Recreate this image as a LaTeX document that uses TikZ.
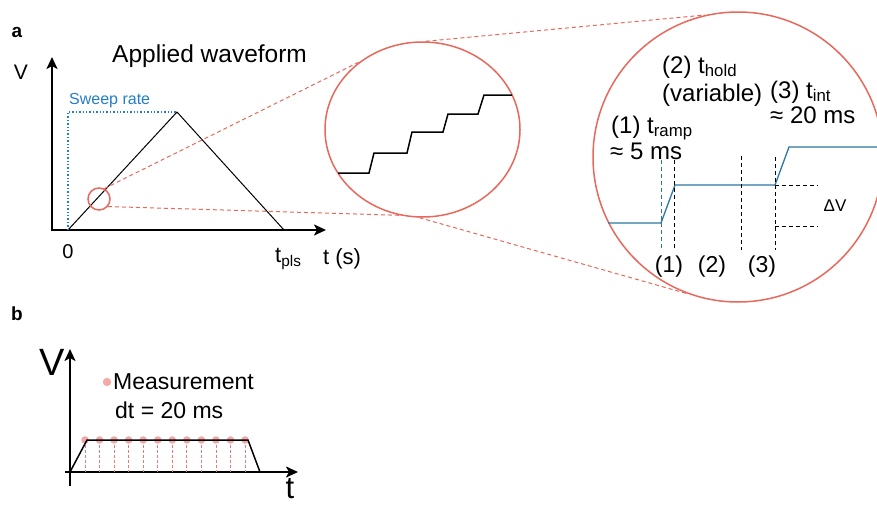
\documentclass[tikz,border=0pt]{standalone}
\usepackage{fontspec}
\setmainfont{Liberation Sans}
\usetikzlibrary{arrows.meta,positioning,shapes.geometric,calc}
\definecolor{zoomred}{RGB}{232,104,92}
\definecolor{sweepblue}{RGB}{35,125,200}
\definecolor{waveblue}{RGB}{45,120,160}
\definecolor{dotpink}{RGB}{244,168,168}
\definecolor{stempink}{RGB}{236,120,120}

\begin{document}
\begin{tikzpicture}[x=1pt,y=-1pt,
    axis/.style={line width=2.6pt,-{Stealth[length=12pt,width=11pt,inset=3pt]}},
    lens/.style={draw=zoomred,line width=1.5pt,inner sep=0pt},
    guide/.style={draw=zoomred,dashed,line width=1pt,dash pattern=on 4pt off 3pt},
    marker/.style={dashed,line width=1pt,dash pattern=on 4pt off 3pt},
    txt/.style={inner sep=0pt,anchor=base west},
    fs/.style={font=\fontsize{#1}{#1}\selectfont}]
    \useasboundingbox (0,0) rectangle (877,506);
    \clip (0,0) rectangle (877,506);

    % Panel labels
    \node[font=\bfseries\fontsize{19}{19}\selectfont] (labA) at (17,32) {a};
    \node[font=\bfseries\fontsize{19}{19}\selectfont] (labB) at (17,314) {b};

    % Axes (a)
    \draw[axis] (52,231) -- (52,57);
    \draw[axis] (51,230) -- (326,230);
    \node[fs=21] (vA) at (21,72) {V};
    \node[fs=20] (zeroA) at (68,252) {0};
    \node[txt,fs=22] (tA) at (323,264) {t (s)};
    \node[txt,fs=22] (tpls) at (275,262) {t\textsubscript{pls}};
    \node[txt,fs=24.5] (title) at (112,62) {Applied waveform};

    % Triangle pulse and sweep rate
    \draw[line width=1pt] (68,230) -- (177,112) -- (284,230);
    \draw[sweepblue,dotted,line width=1.4pt] (68,230) -- (68,112) -- (177,112);
    \node[txt,fs=16,text=sweepblue] (sweep) at (69,104) {Sweep rate};

    % Zoom lenses
    \node[lens,circle,minimum size=22pt] (lensA) at (99,199) {};
    \node[lens,ellipse,minimum width=195pt,minimum height=175pt] (lensB) at (422.5,129.5) {};
    \node[lens,circle,minimum size=290pt] (lensC) at (738,157) {};

    % Guide lines between lenses
    \draw[guide] (lensA.63) -- (lensB.133);
    \draw[guide] (lensA.-40) -- (lensB.-105);
    \draw[guide] (lensB.88) -- (lensC.103);
    \draw[guide] (lensB.-92) -- (lensC.-110);

    % Staircase (first zoom)
    \draw[line width=1.5pt]
        (338,173) -- (369,173) -- (374,153) -- (407,153) --
        (412,132) -- (443,132) -- (448,114) -- (478,114) --
        (484,95) -- (512,95);

    % Step detail (second zoom)
    \draw[waveblue,line width=1.3pt]
        (608,223) -- (661,223) -- (675,185) -- (775,185) --
        (789,147) -- (880,147);
    \draw[marker,waveblue] (661,160) -- (661,250);
    \foreach \x/\top in {674/160, 741/156, 775/157} {
        \draw[marker] (\x,\top) -- (\x,250);
    }
    \draw[marker] (775,185) -- (818,185);
    \draw[marker] (775,226) -- (818,226);
    \node[fs=17] (dV) at (835,206) {ΔV};

    % Phase labels
    \node[txt,fs=24] (hold) at (662,73) {(2) t\textsubscript{hold}};
    \node[txt,fs=24] (var) at (662,101) {(variable)};
    \node[txt,fs=24] (intg) at (770,98) {(3) t\textsubscript{int}};
    \node[txt,fs=24] (intv) at (770,123) {≈ 20 ms};
    \node[txt,fs=24] (ramp) at (611,133) {(1) t\textsubscript{ramp}};
    \node[txt,fs=24] (rampv) at (610,159) {≈ 5 ms};
    \foreach \x/\n in {669/1, 712/2, 762/3} {
        \node[fs=23] (ph\n) at (\x,267) {(\n)};
    }

    % Axes (b)
    \draw[axis,line width=2.4pt] (70,486) -- (70,349);
    \draw[axis,line width=2.4pt] (65,472) -- (298,472);
    \node[fs=38] (vB) at (52,362) {V};
    \node[fs=31] (tB) at (290,489) {t};

    % Measurement points
    \foreach \i in {0,...,11} {
        \draw[stempink,dashed,line width=0.9pt,dash pattern=on 3pt off 2pt] (85+\i*14.55,440) -- (85+\i*14.55,472);
        \fill[dotpink] (85+\i*14.55,440) circle (3.8pt);
    }
    \draw[line width=1.5pt] (70,472) -- (87,440) -- (248,440) -- (260,472);
    \fill[dotpink] (107,382) circle (4.2pt);
    \node[txt,fs=23] (meas) at (113,389) {Measurement};
    \node[txt,fs=23] (dt) at (115,418) {dt = 20 ms};
\end{tikzpicture}
\end{document}
